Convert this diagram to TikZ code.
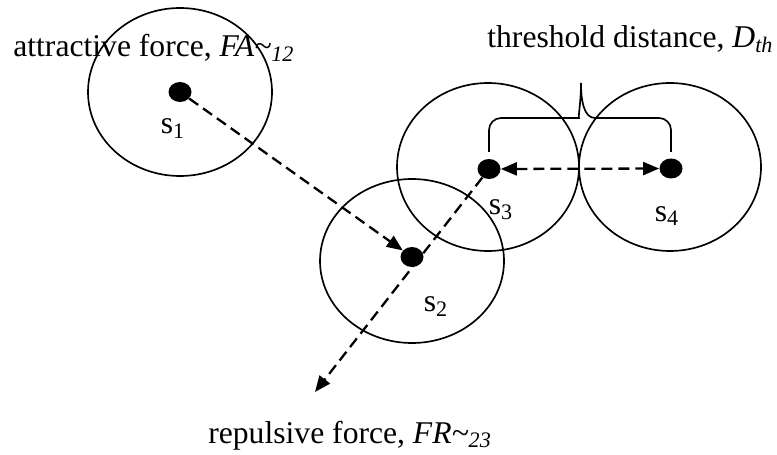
\documentclass[tikz,border=0pt]{standalone}
\usepackage{fontspec}
\setmainfont{Liberation Serif}
\usepackage{tikz}
\usetikzlibrary{positioning, calc, shapes.geometric, arrows.meta}

\begin{document}
\begin{tikzpicture}[
    font=\fontsize{18}{21.6}\selectfont,
    dotstyle/.style={ellipse, fill=black, inner sep=0pt, minimum width=0.46cm, minimum height=0.4cm},
    labelstyle/.style={inner sep=0pt, font=\fontsize{18}{21.6}\selectfont},
    rangestyle/.style={draw=black, line width=0.95pt},
    forcestyle/.style={-{Triangle[length=0.32cm, width=0.26cm]}, line width=1.3pt, dash pattern=on 0.22cm off 0.12cm},
    bracestyle/.style={line width=0.95pt}
]
    \useasboundingbox (0,0) rectangle (15.54,-9.1);

    % Sensor nodes
    \node (s1) [dotstyle] at (3.60,-1.84) {};
    \node (s2) [dotstyle] at (8.24,-5.14) {};
    \node (s3) [dotstyle] at (9.78,-3.38) {};
    \node (s4) [dotstyle] at (13.42,-3.37) {};

    \node (s1_lab) [labelstyle, below=0.32cm of s1, xshift=-0.14cm] {s\textsubscript{1}};
    \node (s2_lab) [labelstyle, below=0.58cm of s2, xshift=0.48cm] {s\textsubscript{2}};
    \node (s3_lab) [labelstyle, below=0.40cm of s3, xshift=0.24cm] {s\textsubscript{3}};
    \node (s4_lab) [labelstyle, below=0.54cm of s4, xshift=-0.08cm] {s\textsubscript{4}};

    % Sensing ranges
    \draw [rangestyle] (s1) ellipse [x radius=1.84cm, y radius=1.68cm];
    \draw [rangestyle] ([yshift=-0.08cm]s2.center) ellipse [x radius=1.84cm, y radius=1.64cm];
    \draw [rangestyle] ([xshift=-0.02cm, yshift=0.04cm]s3.center) ellipse [x radius=1.82cm, y radius=1.68cm];
    \draw [rangestyle] ([xshift=-0.02cm, yshift=0.03cm]s4.center) ellipse [x radius=1.82cm, y radius=1.68cm];

    % Forces
    \coordinate (rep_end) at (6.30,-7.84);
    \draw [forcestyle] (s1) -- (s2);
    \draw [forcestyle] (s3) -- (rep_end);
    \draw [forcestyle, {Triangle[length=0.32cm, width=0.26cm]}-{Triangle[length=0.32cm, width=0.26cm]}] (s3) -- (s4);

    % Threshold brace
    \coordinate (br_l) at ($(s3)+(0,0.34)$);
    \coordinate (br_r) at (br_l -| s4);
    \coordinate (br_mid) at (11.62,-2.36);
    \coordinate (br_tip) at (11.62,-1.66);
    \draw [bracestyle] (br_l) [rounded corners=0.24cm] -- (br_l |- br_mid) -- ($(br_mid)+(-0.28,0)$) [sharp corners]
        .. controls ($(br_mid)+(-0.06,0)$) and ($(br_tip)+(0,-0.36)$) .. (br_tip)
        .. controls ($(br_tip)+(0,-0.36)$) and ($(br_mid)+(0.06,0)$) .. ($(br_mid)+(0.28,0)$)
        [rounded corners=0.24cm] -- (br_r |- br_mid) -- (br_r);

    % Labels
    \node (attr_lab) [labelstyle, anchor=base west] at (0.26,-1.14) {attractive force, {\itshape FA\textasciitilde\textsubscript{12}}};
    \node (dth_lab) [labelstyle, anchor=base west] at (9.74,-0.96) {threshold distance, {\itshape D\textsubscript{th}}};
    \node (rep_lab) [labelstyle, anchor=base west] at (4.16,-8.86) {repulsive force, {\itshape FR\textasciitilde\textsubscript{23}}};

\end{tikzpicture}
\end{document}
